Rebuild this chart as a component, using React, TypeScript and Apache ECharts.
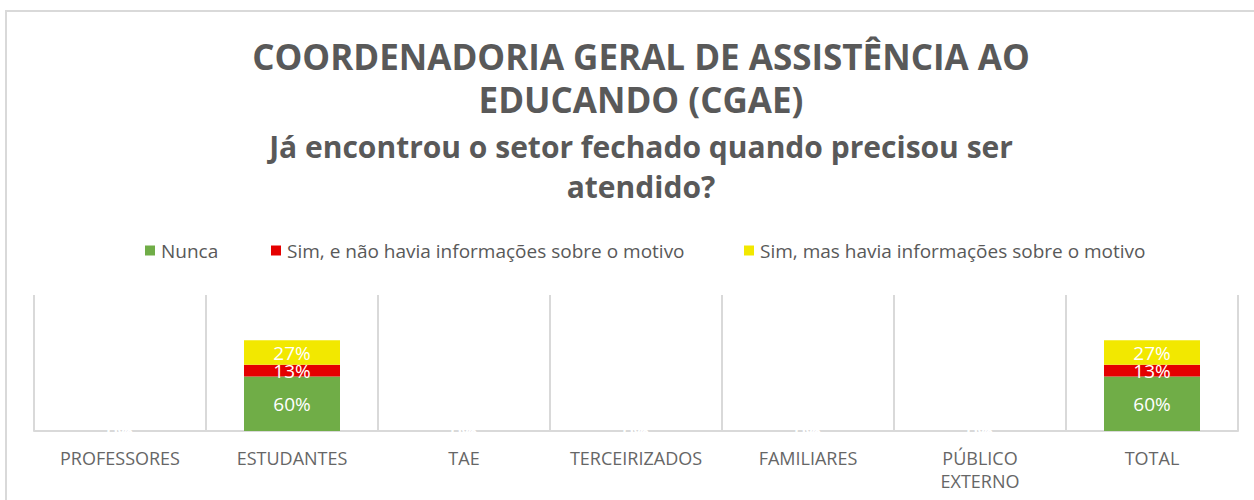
import React, { useEffect, useRef } from "react";
import * as echarts from "echarts";

const categories = [
  "PROFESSORES",
  "ESTUDANTES",
  "TAE",
  "TERCEIRIZADOS",
  "FAMILIARES",
  "PÚBLICO EXTERNO",
  "TOTAL",
];
const seriesNames = [
  "Nunca",
  "Sim, e não havia informações sobre o motivo",
  "Sim, mas havia informações sobre o motivo",
];
const nunca = [0, 60, 0, 0, 0, 0, 60];
const simSemInfo = [0, 13, 0, 0, 0, 0, 13];
const simComInfo = [0, 27, 0, 0, 0, 0, 27];
const colors = ["#70ad47", "#e50000", "#f2e800"];

const titleText = "COORDENADORIA GERAL DE ASSISTÊNCIA AO\nEDUCANDO (CGAE)";
const subtitleText = "Já encontrou o setor fechado quando precisou ser\natendido?";

export default function App() {
  const ref = useRef<HTMLDivElement>(null);
  useEffect(() => {
    document.body.style.margin = "0";
    const chart = echarts.init(ref.current!, null, { renderer: "svg" });
    const gray = "#595959";
    const font = "Open Sans";
    const values = [nunca, simSemInfo, simComInfo];
    const legendLefts = [140, 266, 739];
    chart.setOption({
      animation: false,
      backgroundColor: "#ffffff",
      title: [
        {
          text: titleText,
          left: 636,
          textAlign: "center",
          top: 30,
          textStyle: {
            fontFamily: font,
            fontSize: 35,
            lineHeight: 43,
            fontWeight: "bold",
            color: gray,
          },
        },
        {
          text: subtitleText,
          left: 636,
          textAlign: "center",
          top: 121,
          textStyle: {
            fontFamily: font,
            fontSize: 30,
            lineHeight: 40,
            fontWeight: "bold",
            color: gray,
          },
        },
      ],
      legend: seriesNames.map((n, i) => ({
        data: [n],
        left: legendLefts[i],
        top: 236,
        width: 500,
        itemWidth: 10,
        itemHeight: 10,
        itemGap: 6,
        icon: "rect",
        textStyle: { fontFamily: font, fontSize: 19, color: gray, padding: [0, 0, 0, 1] },
      })),
      graphic: [
        {
          type: "rect",
          shape: { x: 6, y: 11, width: 1260, height: 520 },
          style: { fill: "none", stroke: "#d9d9d9", lineWidth: 2 },
          silent: true,
        },
      ],
      grid: { left: 34, right: 16, top: 295, bottom: 69, containLabel: false },
      xAxis: {
        type: "category",
        data: categories,
        axisLine: { lineStyle: { color: "#d9d9d9", width: 2 } },
        axisTick: { show: false },
        splitLine: { show: true, lineStyle: { color: "#d9d9d9", width: 2 } },
        axisLabel: {
          interval: 0,
          margin: 15,
          fontFamily: font,
          fontSize: 18,
          lineHeight: 23,
          color: "#666666",
          formatter: (v: string) => v.replace(" ", "\n"),
        },
      },
      yAxis: {
        type: "value",
        min: 0,
        max: 150,
        show: false,
        splitLine: { show: false },
      },
      series: seriesNames.map((n, i) => ({
        name: n,
        type: "bar",
        stack: "total",
        barWidth: 96,
        data: values[i],
        itemStyle: { color: colors[i] },
        label: {
          show: true,
          position: "inside",
          color: "#ffffff",
          fontFamily: font,
          fontSize: 19,
          formatter: (p: any) => `${p.value}%`,
        },
      })),
    });
    return () => chart.dispose();
  }, []);
  return <div ref={ref} style={{ width: 1254, height: 500 }} />;
}
